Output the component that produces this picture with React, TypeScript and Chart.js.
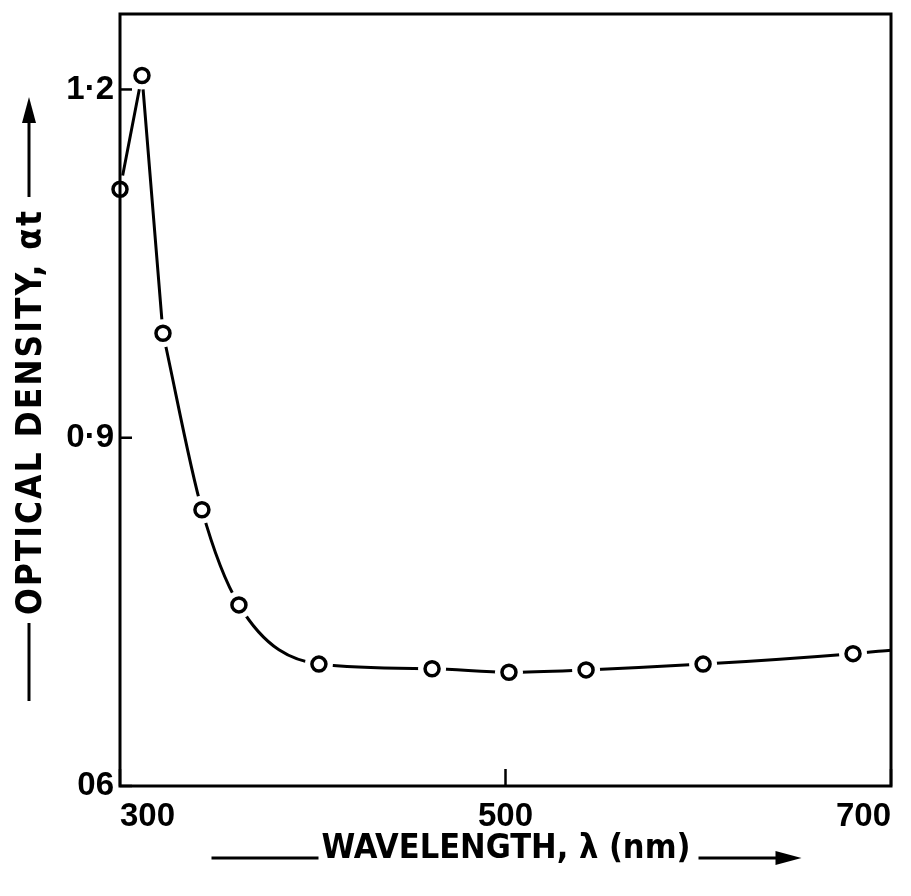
import { useEffect, useRef } from "react";
import { Chart, registerables } from "chart.js";

Chart.register(...registerables);

// ---- data ----
const wavelengths = [300, 311.4, 322.3, 342.5, 361.7, 403.2, 461.9, 501.8, 541.8, 602.5, 680.3];
const opticalDensity = [1.114, 1.212, 0.99, 0.838, 0.756, 0.705, 0.701, 0.698, 0.7, 0.705, 0.714];
// the drawn curve continues to the right frame edge
const curveEndWavelength = 700;
const curveEndDensity = 0.717;

const xTickValues = [300, 500, 700];
const xTickLabels = ["300", "500", "700"];
const yTickValues = [0.6, 0.9, 1.2];
const yTickLabels = ["06", "0·9", "1·2"];
const xTitle = "WAVELENGTH, λ (nm)";
const yTitle = "OPTICAL DENSITY, αt";

const FONT = '"DejaVu Sans Condensed", "DejaVu Sans", sans-serif';
const TICK_FONT = '"Liberation Sans", Arial, sans-serif';

const pts = (xs: number[], ys: number[]) => xs.map((x, i) => ({ x, y: ys[i] }));

const framePlugin = {
  id: "frame",
  afterDraw(chart: any) {
    const { ctx, chartArea } = chart;
    const { left, right, top, bottom } = chartArea;
    const xs = chart.scales.x;
    const ys = chart.scales.y;
    ctx.save();
    ctx.strokeStyle = "#000";
    ctx.fillStyle = "#000";
    ctx.lineWidth = 3;
    ctx.strokeRect(left, top, right - left, bottom - top);

    ctx.lineWidth = 2.5;
    xTickValues.forEach((v) => {
      const px = xs.getPixelForValue(v);
      ctx.beginPath();
      ctx.moveTo(px, bottom);
      ctx.lineTo(px, bottom - 17);
      ctx.stroke();
    });
    yTickValues.forEach((v) => {
      const py = ys.getPixelForValue(v);
      ctx.beginPath();
      ctx.moveTo(left, py);
      ctx.lineTo(left + 12, py);
      ctx.stroke();
    });

    // x axis title with leading line and trailing arrow
    ctx.font = `bold 34px ${FONT}`;
    ctx.textAlign = "center";
    ctx.textBaseline = "middle";
    const cx = 506;
    const ty = 849;
    ctx.fillText(xTitle, cx, ty);
    const w = ctx.measureText(xTitle).width;
    ctx.lineWidth = 3;
    const ly = ty + 9;
    ctx.beginPath();
    ctx.moveTo(cx - w / 2 - 110, ly);
    ctx.lineTo(cx - w / 2 - 3, ly);
    ctx.stroke();
    const ax0 = cx + w / 2 + 8;
    const ax1 = ax0 + 103;
    ctx.beginPath();
    ctx.moveTo(ax0, ly);
    ctx.lineTo(ax1 - 18, ly);
    ctx.stroke();
    ctx.beginPath();
    ctx.moveTo(ax1, ly);
    ctx.lineTo(ax1 - 26, ly - 7);
    ctx.lineTo(ax1 - 26, ly + 7);
    ctx.closePath();
    ctx.fill();

    // y axis title
    ctx.save();
    ctx.translate(32, 412);
    ctx.rotate(-Math.PI / 2);
    ctx.font = `bold 35px ${FONT}`;
    try {
      (ctx as any).letterSpacing = "2px";
    } catch (e) {}
    ctx.fillText(yTitle, 0, 0);
    const wy = ctx.measureText(yTitle).width;
    try {
      (ctx as any).letterSpacing = "0px";
    } catch (e) {}
    ctx.lineWidth = 3;
    const yl = -3;
    ctx.beginPath();
    ctx.moveTo(-wy / 2 - 8, yl);
    ctx.lineTo(-wy / 2 - 86, yl);
    ctx.stroke();
    const b0 = wy / 2 + 12;
    const b1 = b0 + 100;
    ctx.beginPath();
    ctx.moveTo(b0, yl);
    ctx.lineTo(b1 - 18, yl);
    ctx.stroke();
    ctx.beginPath();
    ctx.moveTo(b1, yl);
    ctx.lineTo(b1 - 26, yl - 7);
    ctx.lineTo(b1 - 26, yl + 7);
    ctx.closePath();
    ctx.fill();
    ctx.restore();

    ctx.restore();
  },
};

export default function App() {
  const ref = useRef<HTMLCanvasElement | null>(null);

  useEffect(() => {
    if (!ref.current) return;
    const measured = pts(wavelengths, opticalDensity);
    const peakPart = measured.slice(0, 3);
    const smoothPart = [...measured.slice(2), { x: curveEndWavelength, y: curveEndDensity }];

    const chart = new Chart(ref.current, {
      type: "scatter",
      data: {
        datasets: [
          {
            data: measured,
            showLine: false,
            pointRadius: 7,
            pointBorderWidth: 3.5,
            pointBackgroundColor: "#fff",
            pointBorderColor: "#000",
            order: 0,
            clip: false,
          } as any,
          {
            data: measured,
            showLine: false,
            pointRadius: 14,
            pointBorderWidth: 0,
            pointBackgroundColor: "#fff",
            pointBorderColor: "#fff",
            order: 1,
            clip: false,
          } as any,
          {
            data: peakPart,
            showLine: true,
            tension: 0,
            borderColor: "#000",
            borderWidth: 3,
            pointRadius: 0,
            order: 2,
          } as any,
          {
            data: smoothPart,
            showLine: true,
            cubicInterpolationMode: "monotone",
            borderColor: "#000",
            borderWidth: 3,
            pointRadius: 0,
            order: 3,
          } as any,
        ],
      },
      options: {
        animation: false,
        responsive: false,
        devicePixelRatio: 1,
        layout: { padding: { left: 0, right: 20, top: 13, bottom: 0 } },
        plugins: { legend: { display: false }, tooltip: { enabled: false } },
        events: [],
        scales: {
          x: {
            type: "linear",
            min: 300,
            max: 700,
            grid: { display: false, drawTicks: false },
            border: { display: false },
            afterFit: (s: any) => {
              s.height = 110;
              s.paddingLeft = 0;
              s.paddingRight = 0;
            },
            afterBuildTicks: (s: any) => {
              s.ticks = xTickValues.map((v) => ({ value: v }));
            },
            ticks: {
              align: "inner",
              padding: 11,
              color: "#000",
              font: { family: TICK_FONT, size: 33, weight: "bold" },
              callback: (v: any) => {
                const i = xTickValues.indexOf(Number(v));
                return i >= 0 ? xTickLabels[i] : "";
              },
            },
          },
          y: {
            type: "linear",
            min: 0.6,
            max: 1.265,
            grid: { display: false, drawTicks: false },
            border: { display: false },
            afterFit: (s: any) => {
              s.width = 120;
              s.paddingTop = 0;
              s.paddingBottom = 0;
            },
            afterBuildTicks: (s: any) => {
              s.ticks = yTickValues.map((v) => ({ value: v }));
            },
            ticks: {
              padding: 6,
              color: "#000",
              font: { family: TICK_FONT, size: 33, weight: "bold" },
              callback: (v: any) => {
                const i = yTickValues.findIndex((t) => Math.abs(t - Number(v)) < 1e-6);
                return i >= 0 ? yTickLabels[i] : "";
              },
            },
          },
        },
      } as any,
      plugins: [framePlugin],
    });
    return () => chart.destroy();
  }, []);

  return (
    <div style={{ position: "absolute", left: 0, top: 0, width: 911, height: 896, background: "#fff" }}>
      <canvas ref={ref} width={911} height={896} />
    </div>
  );
}
